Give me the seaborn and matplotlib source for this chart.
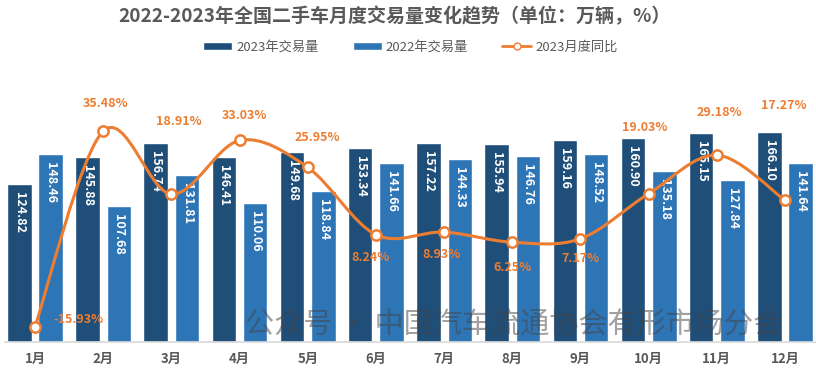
"""2022-2023 national used-car monthly transactions chart."""

import numpy as np
import pandas as pd
import matplotlib

matplotlib.use("Agg")
import matplotlib.pyplot as plt
import seaborn as sns
from matplotlib.lines import Line2D
from matplotlib.patches import Patch, PathPatch
from matplotlib.path import Path

months = ["1月", "2月", "3月", "4月", "5月", "6月", "7月", "8月", "9月", "10月", "11月", "12月"]
volume_2023 = [124.82, 145.88, 156.74, 146.41, 149.68, 153.34, 157.22, 155.94, 159.16, 160.90, 165.15, 166.10]
volume_2022 = [148.46, 107.68, 131.81, 110.06, 118.84, 141.66, 144.33, 146.76, 148.52, 135.18, 127.84, 141.64]
yoy_2023 = [-15.93, 35.48, 18.91, 33.03, 25.95, 8.24, 8.93, 6.25, 7.17, 19.03, 29.18, 17.27]
series_names = ["2023年交易量", "2022年交易量"]
line_name = "2023月度同比"
title = "2022-2023年全国二手车月度交易量变化趋势（单位：万辆，%）"
watermark = "公众号 · 中国汽车流通协会有形市场分会"

# label offsets (pixels) for the percent labels, relative to each point
pct_offsets = [(43, 7), (2, 28), (7, 73), (5, 25), (10, 30), (-5, -23),
               (-3, -22), (0, -25), (0, -20), (-4, 66), (3, 43), (-1, 95)]

DARK = "#1F4E79"
MID = "#2E75B6"
ORANGE = "#ED7D31"
GRAY = "#595959"

sns.set_theme(style="white")
plt.rcParams["font.family"] = ["Noto Sans CJK SC", "DejaVu Sans"]

df = pd.DataFrame({
    "month": months * 2,
    "value": volume_2023 + volume_2022,
    "series": [series_names[0]] * 12 + [series_names[1]] * 12,
})

fig = plt.figure(figsize=(8.16, 3.76), dpi=100)
ax = fig.add_axes([5 / 816, 34 / 376, 810 / 816, 266 / 376])

sns.barplot(data=df, x="month", y="value", hue="series", order=months,
            hue_order=series_names, palette=[DARK, MID], width=0.92, gap=0.22,
            saturation=1, errorbar=None, legend=False, ax=ax)
ax.set_xlim(-0.44, 11.44)
ax.set_ylim(0, 210)
ax.set_xlabel("")
ax.set_ylabel("")
ax.set_yticks([])
for side in ["top", "right", "left"]:
    ax.spines[side].set_visible(False)
ax.spines["bottom"].set_color("#D9D9D9")
ax.spines["bottom"].set_linewidth(1.2)
ax.tick_params(axis="x", length=0, pad=7)
for lbl in ax.get_xticklabels():
    lbl.set_fontsize(9.5)
    lbl.set_fontweight("bold")
    lbl.set_color(GRAY)

for container in ax.containers:
    for bar in container:
        h = bar.get_height()
        ax.annotate(f"{h:.2f}", (bar.get_x() + bar.get_width() / 2, h),
                    xytext=(0, -8), textcoords="offset pixels",
                    ha="center", va="top", rotation=-90, color="white",
                    fontsize=9, fontweight="bold")

ax2 = ax.twinx()
ax2.set_ylim(-20, 50)
ax2.set_yticks([])
for side in ["top", "right", "left", "bottom"]:
    ax2.spines[side].set_visible(False)

# smooth curve (Catmull-Rom style bezier) through the data points
xs = np.arange(len(yoy_2023), dtype=float)
ys = np.array(yoy_2023, dtype=float)
pts = np.column_stack([xs, ys])
verts = [pts[0]]
codes = [Path.MOVETO]
n = len(pts)
for i in range(n - 1):
    p0 = pts[max(i - 1, 0)]
    p1 = pts[i]
    p2 = pts[i + 1]
    p3 = pts[min(i + 2, n - 1)]
    c1 = p1 + (p2 - p0) / 6
    c2 = p2 - (p3 - p1) / 6
    verts += [c1, c2, p2]
    codes += [Path.CURVE4] * 3
ax2.add_patch(PathPatch(Path(verts, codes), facecolor="none",
                        edgecolor=ORANGE, linewidth=2.2, zorder=3))
sns.scatterplot(x=xs, y=ys, ax=ax2, s=55, color="white", edgecolor=ORANGE,
                linewidth=1.8, zorder=4, legend=False)

for x, y, (dx, dy) in zip(xs, ys, pct_offsets):
    ax2.annotate(f"{y:.2f}%", (x, y), xytext=(dx, dy), textcoords="offset pixels",
                 ha="center", va="center", color=ORANGE, fontsize=9, fontweight="bold")

fig.text(0.63, 0.135, watermark, ha="center", va="center", fontsize=21,
         color="#444444", alpha=0.5)

fig.text(0.484, 0.957, title, ha="center", va="center", fontsize=13.7,
         fontweight="bold", color=GRAY)

handles = [
    Patch(facecolor=DARK, label=series_names[0]),
    Patch(facecolor=MID, label=series_names[1]),
    Line2D([0], [0], color=ORANGE, lw=2, marker="o", markersize=5,
           markerfacecolor="white", markeredgecolor=ORANGE, label=line_name),
]
leg = fig.legend(handles=handles, loc="center", bbox_to_anchor=(0.503, 0.875),
                 ncol=3, frameon=False, fontsize=9.5, handlelength=2.2,
                 handleheight=0.6, columnspacing=2.6, handletextpad=0.3)
for t in leg.get_texts():
    t.set_color(GRAY)

fig.savefig("out.png", dpi=100)
